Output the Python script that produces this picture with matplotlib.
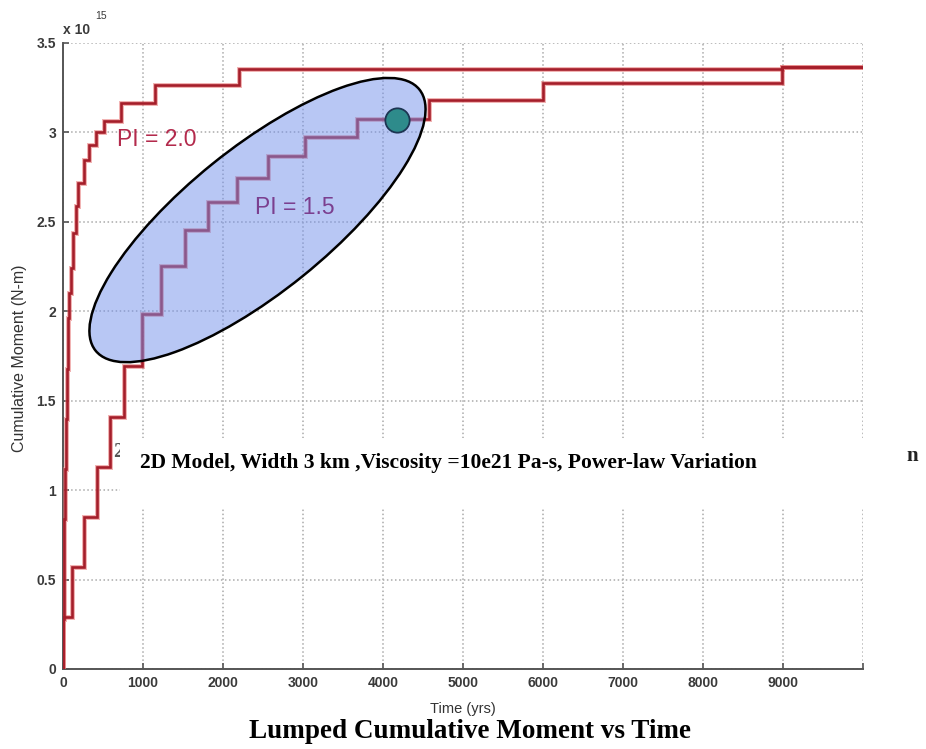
import matplotlib
matplotlib.use("Agg")
import matplotlib.pyplot as plt
from matplotlib.patches import Ellipse, Rectangle
from matplotlib.transforms import ScaledTranslation

# ---------------- data ----------------
# PI = 2.0 : event times (yrs) and cumulative moment (x 1e15 N-m)
t_pi20 = [0, 0, 8, 15, 25, 35, 48, 62, 80, 100, 125, 162, 192, 258, 330, 418, 515, 725, 1150, 2200, 8990, 10000]
m_pi20 = [0, 0.28, 0.56, 0.84, 1.12, 1.40, 1.68, 1.96, 2.10, 2.24, 2.44, 2.59, 2.72, 2.845, 2.93, 3.00, 3.065, 3.162, 3.264, 3.352, 3.365, 3.365]

# PI = 1.5
t_pi15 = [0, 0, 110, 260, 425, 590, 765, 985, 1222, 1525, 1817, 2170, 2560, 3030, 3680, 4570, 6000, 8985, 10000]
m_pi15 = [0, 0.29, 0.57, 0.85, 1.13, 1.41, 1.695, 1.985, 2.255, 2.452, 2.61, 2.745, 2.866, 2.975, 3.075, 3.18, 3.277, 3.365, 3.365]

# highlighted point and ellipse centre (data units)
highlight_t = [4171]
highlight_m = [3.069]
ellipse_center = (2431, 2.51)

x_ticks = [0, 1000, 2000, 3000, 4000, 5000, 6000, 7000, 8000, 9000, 10000]
x_ticklabels = ["0", "1000", "2000", "3000", "4000", "5000", "6000", "7000", "8000", "9000", ""]
y_ticks = [0, 0.5, 1, 1.5, 2, 2.5, 3, 3.5]
y_ticklabels = ["0", "0.5", "1", "1.5", "2", "2.5", "3", "3.5"]

title_text = "Lumped Cumulative Moment vs Time"
box_text = "2D Model, Width 3 km ,Viscosity =10e21 Pa-s, Power-law Variation"

# ---------------- figure ----------------
W, H = 926, 749
fig = plt.figure(figsize=(W / 100, H / 100), dpi=100)
fig.patch.set_facecolor("white")

def fx(px):
    return px / W

def fy(py):
    return 1 - py / H

ax_l, ax_r, ax_t, ax_b = 63, 863, 43, 669
ax = fig.add_axes([fx(ax_l), fy(ax_b), (ax_r - ax_l) / W, (ax_b - ax_t) / H])
ax.set_xlim(0, 10000)
ax.set_ylim(0, 3.5)

sans = ["Liberation Sans", "DejaVu Sans"]
serif = ["Liberation Serif", "DejaVu Serif"]

ax.set_xticks(x_ticks)
ax.set_xticklabels(x_ticklabels, family=sans, fontsize=10, fontweight="bold", color="#3a3a3a")
ax.set_yticks(y_ticks)
ax.set_yticklabels(y_ticklabels, family=sans, fontsize=10, fontweight="bold", color="#3a3a3a")
ax.tick_params(direction="in", length=4, width=1.2, color="#555555", pad=5)
for s in ["top", "right"]:
    ax.spines[s].set_visible(False)
for s in ["left", "bottom"]:
    ax.spines[s].set_color("#555555")
    ax.spines[s].set_linewidth(1.4)
ax.grid(True, linestyle=":", color="#aaaaaa", linewidth=1.1)
ax.set_axisbelow(True)

# lines (halo + core)
for t, m in [(t_pi20, m_pi20), (t_pi15, m_pi15)]:
    ax.step(t, m, where="post", color="#e56a6a", linewidth=3.6, alpha=0.5, zorder=3, solid_joinstyle="miter")
    ax.step(t, m, where="post", color="#a51e2a", linewidth=1.9, zorder=4, solid_joinstyle="miter")

# ellipse (pixel-sized, centred on data point)
ell = Ellipse((0, 0), 416, 144, angle=38.9,
              transform=ScaledTranslation(ellipse_center[0], ellipse_center[1], ax.transData),
              facecolor="#7391eb", alpha=0.5, edgecolor="none", zorder=5)
ax.add_patch(ell)
ell2 = Ellipse((0, 0), 416, 144, angle=38.9,
               transform=ScaledTranslation(ellipse_center[0], ellipse_center[1], ax.transData),
               facecolor="none", edgecolor="black", linewidth=1.8, zorder=6)
ax.add_patch(ell2)

ax.plot(highlight_t, highlight_m, marker="o", markersize=17.5, markerfacecolor="#2e8b8b",
        markeredgecolor="#1c3552", markeredgewidth=1.3, linestyle="none", zorder=7)

# PI labels
fig.text(fx(117), fy(140), "PI = 2.0", family=sans, fontsize=16.5, color="#b32a4c", va="center", ha="left")
fig.text(fx(255), fy(207), "PI = 1.5", family=sans, fontsize=16.5, color="#7b3f8f", va="center", ha="left")

# axis labels
fig.text(fx(20), fy(358), "Cumulative Moment (N-m)", family=sans, fontsize=11.5, color="#333333",
         rotation=90, va="center", ha="center")
fig.text(fx(463), fy(709), "Time (yrs)", family=sans, fontsize=10.5, color="#333333", va="center", ha="center")
fig.text(fx(63), fy(30), "x 10", family=sans, fontsize=10, fontweight="bold", color="#3a3a3a", va="center", ha="left")
fig.text(fx(95), fy(16), "15", family=sans, fontsize=7.5, color="#3a3a3a", va="center", ha="left")

# title
fig.text(fx(470), fy(731), title_text, family=serif, fontsize=19.5, fontweight="bold", color="black",
         va="center", ha="center")

# overlapping text box with hidden fragments
fig.text(fx(113), fy(452), "2", family=serif, fontsize=15, fontweight="bold", color="#555555",
         va="center", ha="left", zorder=8)
fig.patches.append(Rectangle((fx(120), fy(508)), (W - 120) / W, (508 - 438) / H,
                             transform=fig.transFigure, facecolor="white", edgecolor="none", zorder=9))
fig.text(fx(140), fy(463), box_text, family=serif, fontsize=15.5, fontweight="bold", color="black",
         va="center", ha="left", zorder=10)
fig.text(fx(906), fy(456), "n", family=serif, fontsize=15, fontweight="bold", color="#222222",
         va="center", ha="left", zorder=10)

fig.savefig("out.png", dpi=100, facecolor="white")
